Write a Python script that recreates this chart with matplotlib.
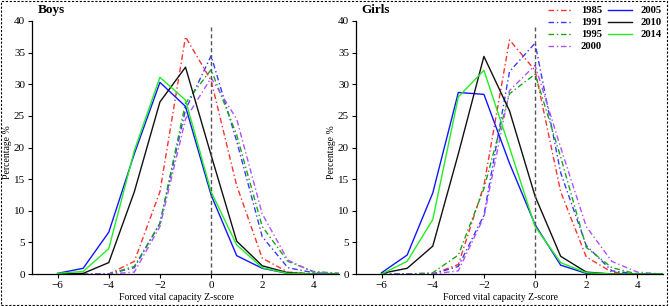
import matplotlib
matplotlib.use("Agg")
import matplotlib.pyplot as plt
from matplotlib.patches import Rectangle

plt.rcParams['font.family'] = ['Liberation Serif', 'DejaVu Serif']

z = [-6, -5, -4, -3, -2, -1, 0, 1, 2, 3, 4, 5]
years = ['1985', '1991', '1995', '2000', '2005', '2010', '2014']

boys = {
    '1985': [0, 0, 0, 2.0, 13.0, 37.5, 30.6, 14.0, 2.5, 0.3, 0.0, 0.0],
    '1991': [0, 0, 0, 1.0, 8.0, 26.0, 34.5, 21.0, 5.9, 1.0, 0.2, 0.0],
    '1995': [0, 0, 0, 1.2, 8.0, 27.0, 32.3, 22.0, 7.5, 2.0, 0.4, 0.1],
    '2000': [0, 0, 0, 0.3, 7.5, 24.5, 31.0, 24.5, 9.5, 2.2, 0.3, 0.1],
    '2005': [0.1, 0.9, 6.6, 19.0, 30.3, 26.5, 12.5, 2.9, 0.9, 0.1, 0.0, 0.0],
    '2010': [0.0, 0.1, 1.8, 13.0, 27.2, 32.7, 18.8, 5.2, 1.3, 0.2, 0.0, 0.0],
    '2014': [0.1, 0.4, 4.0, 19.5, 31.1, 27.5, 13.0, 4.6, 1.0, 0.1, 0.0, 0.0],
}
girls = {
    '1985': [0, 0, 0, 1.5, 14.0, 37.0, 32.2, 13.0, 2.7, 0.3, 0.0, 0.0],
    '1991': [0, 0, 0, 1.2, 9.3, 32.0, 36.5, 16.0, 4.5, 0.5, 0.0, 0.0],
    '1995': [0, 0, 0.2, 3.0, 13.5, 28.5, 31.6, 18.5, 4.2, 1.0, 0.0, 0.0],
    '2000': [0, 0, 0, 0.5, 9.0, 29.0, 33.0, 20.0, 7.5, 2.0, 0.3, 0.0],
    '2005': [0.2, 3.0, 12.8, 28.7, 28.4, 17.5, 7.8, 1.4, 0.1, 0.0, 0.0, 0.0],
    '2010': [0.1, 0.9, 4.4, 19.0, 34.4, 25.8, 12.3, 2.8, 0.3, 0.0, 0.0, 0.0],
    '2014': [0.0, 2.0, 8.6, 28.0, 32.2, 20.0, 7.5, 1.8, 0.2, 0.0, 0.0, 0.0],
}

dd = (0, (4, 2, 1, 2))
styles = {
    '1985': dict(color='#ff3030', ls=dd, lw=1.0),
    '1991': dict(color='#3a3aff', ls=dd, lw=1.0),
    '1995': dict(color='#14a814', ls=dd, lw=1.0),
    '2000': dict(color='#b050ff', ls=dd, lw=1.0),
    '2005': dict(color='#1414ff', ls='-', lw=1.0),
    '2010': dict(color='#111111', ls='-', lw=1.0),
    '2014': dict(color='#22ee22', ls='-', lw=1.0),
}

fig = plt.figure(figsize=(6.69, 3.06), dpi=100)
W, H = 669, 306
ax1 = fig.add_axes([32 / W, 32 / H, 307 / W, 253 / H])
ax2 = fig.add_axes([356 / W, 32 / H, 307 / W, 253 / H])

for ax, data, title in [(ax1, boys, 'Boys'), (ax2, girls, 'Girls')]:
    for y in years:
        ax.plot(z, data[y], label=y, **styles[y])
    ax.axvline(0, ymin=0, ymax=0.978, color='#555555', ls=(0, (3, 2)), lw=1.0)
    ax.set_xlim(-7, 5)
    ax.set_ylim(0, 40)
    ax.set_xticks([-6, -4, -2, 0, 2, 4])
    ax.set_yticks(range(0, 41, 5))
    ax.spines['top'].set_visible(False)
    ax.spines['right'].set_visible(False)
    ax.spines['left'].set_linewidth(0.9)
    ax.spines['bottom'].set_linewidth(0.9)
    ax.tick_params(labelsize=8, length=3, width=0.8, pad=2)
    ax.set_xlabel('Forced vital capacity Z-score', fontsize=7.0)
    ax.xaxis.set_label_coords(0.47, -0.075)
    ax.set_ylabel('Percentage %', fontsize=7.0)
    ax.yaxis.set_label_coords(-0.065, 0.48)
    ax.text(0.018, 1.018, title, transform=ax.transAxes, fontsize=9.5,
            fontweight='bold', ha='left', va='bottom')

handles, labels = ax2.get_legend_handles_labels()
leg = fig.legend(handles, labels, ncol=2, frameon=False, loc='upper right',
                 bbox_to_anchor=(662 / W, 1 - 6 / H), borderpad=0, borderaxespad=0,
                 handlelength=2.3, labelspacing=0.25, columnspacing=0.6,
                 handletextpad=0.8, prop={'weight': 'bold', 'size': 7.6})

fig.add_artist(Rectangle((0.002, 0.003), 0.995, 0.993, transform=fig.transFigure,
                         fill=False, ec='black', ls=(0, (2, 1.5)), lw=0.8))

fig.savefig('out.png', dpi=100)
